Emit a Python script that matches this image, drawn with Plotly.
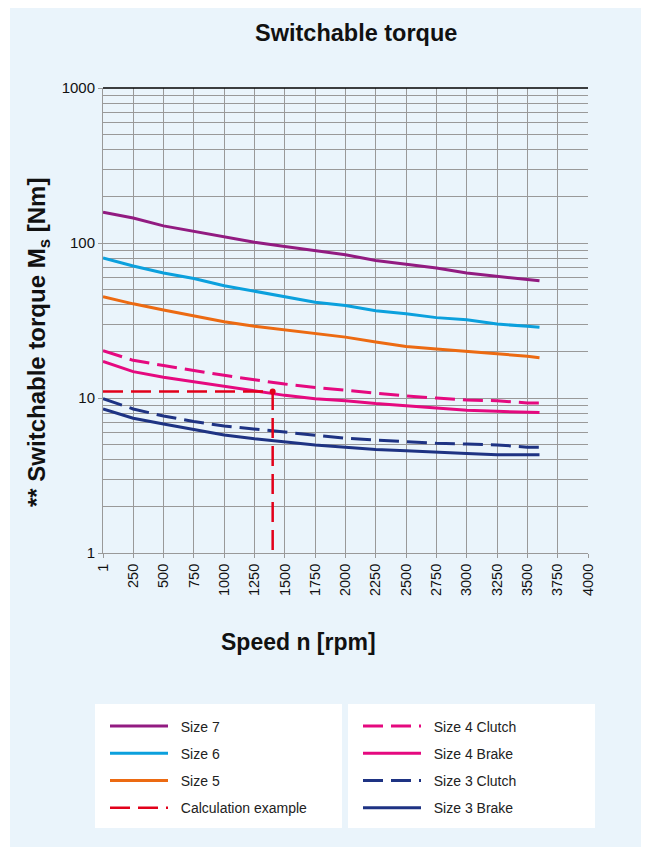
import plotly.graph_objects as go

# speed values (rpm) and switchable torque (Nm)
speed = [1, 250, 500, 750, 1000, 1250, 1500, 1750, 2000, 2250, 2500, 2750, 3000, 3250, 3500, 3600]

size7 = [158, 145, 129, 119, 110, 101, 95, 89, 84, 77, 73, 69, 64, 61, 58, 57]
size6 = [80, 71, 64, 59, 53, 49, 45, 41.5, 39.5, 36.5, 35, 33, 32, 30, 29, 28.6]
size5 = [45, 40.5, 37, 34, 31, 29, 27.5, 26, 24.7, 23, 21.5, 20.7, 19.9, 19.3, 18.6, 18.2]
size4_clutch = [20.2, 17.5, 16.2, 15, 14, 13.1, 12.3, 11.7, 11.2, 10.7, 10.3, 10, 9.7, 9.6, 9.3, 9.3]
size4_brake = [17.2, 14.8, 13.6, 12.7, 11.9, 11.1, 10.4, 9.9, 9.6, 9.2, 8.9, 8.6, 8.35, 8.2, 8.05, 8.05]
size3_clutch = [9.9, 8.5, 7.65, 7.05, 6.6, 6.3, 6.0, 5.7, 5.5, 5.35, 5.2, 5.1, 5.05, 4.98, 4.82, 4.82]
size3_brake = [8.5, 7.4, 6.8, 6.3, 5.78, 5.45, 5.18, 4.97, 4.82, 4.65, 4.57, 4.46, 4.38, 4.3, 4.3, 4.3]

# calculation example: 1400 rpm -> about 11 Nm
calc_x = [1, 1400, 1400]
calc_y = [11, 11, 1]

x_ticks = [1] + list(range(250, 4001, 250))
y_ticks = [1, 10, 100, 1000]
y_minor = [m * d for d in (1, 10, 100) for m in range(2, 10)]

FONT = "Liberation Sans, Arial, Helvetica, sans-serif"
BG = "#EAF4FB"
GRID = "#999999"
PAD = "\u00a0\u00a0"  # small gap between legend line and label
DASH = "20px,8px"

fig = go.Figure()

def add_curve(y, name, color, dash, legend):
    fig.add_trace(go.Scatter(
        x=speed, y=y, name=PAD + name, mode="lines",
        line=dict(color=color, width=3, dash=dash),
        legend=legend, legendgroup=name,
    ))

add_curve(size7, "Size 7", "#921B81", "solid", "legend")
add_curve(size6, "Size 6", "#0BA0DD", "solid", "legend")
add_curve(size5, "Size 5", "#EC6A12", "solid", "legend")
add_curve(size4_clutch, "Size 4 Clutch", "#E5097F", DASH, "legend2")
add_curve(size4_brake, "Size 4 Brake", "#E5097F", "solid", "legend2")
add_curve(size3_clutch, "Size 3 Clutch", "#1E3383", DASH, "legend2")
add_curve(size3_brake, "Size 3 Brake", "#1E3383", "solid", "legend2")

fig.add_trace(go.Scatter(
    x=calc_x, y=calc_y, name=PAD + "Calculation example", mode="lines",
    line=dict(color="#E2001A", width=2.5, dash=DASH),
    legend="legend", legendgroup="calc",
))
fig.add_trace(go.Scatter(
    x=[calc_x[1]], y=[calc_y[1]], mode="markers", showlegend=False,
    marker=dict(color="#E2001A", size=6),
))

# layout geometry, in page pixels; the page body has an 8px margin
OFF = 8
W, H = 649 - 2 * OFF, 855 - 2 * OFF
L, R, T, B = 103, 588, 88, 553
pw, ph = R - L, B - T

def px(x):
    return (x - L) / pw

def py(y):
    return (B - y) / ph

shapes = [
    # light blue panel
    dict(type="rect", xref="paper", yref="paper", x0=px(10), x1=px(660), y0=py(870), y1=py(4),
         fillcolor=BG, line=dict(width=0), layer="below"),
    # legend boxes
    dict(type="rect", xref="paper", yref="paper", x0=px(95), x1=px(342), y0=py(828), y1=py(704),
         fillcolor="white", line=dict(width=0), layer="below"),
    dict(type="rect", xref="paper", yref="paper", x0=px(348), x1=px(595), y0=py(828), y1=py(704),
         fillcolor="white", line=dict(width=0), layer="below"),
    # black top frame line
    dict(type="line", xref="paper", yref="paper", x0=0, x1=1, y0=1, y1=1,
         line=dict(color="black", width=1.5)),
]

annotations = [
    dict(text="<b>Switchable torque</b>", xref="paper", yref="paper", x=px(356), y=py(33),
         xanchor="center", yanchor="middle", showarrow=False,
         font=dict(size=23.5, color="#111111", family=FONT)),
    dict(text="<b>Speed n [rpm]</b>", xref="paper", yref="paper", x=px(298), y=py(642),
         xanchor="center", yanchor="middle", showarrow=False,
         font=dict(size=23, color="#111111", family=FONT)),
    dict(text="<b>** Switchable torque M<sub>s</sub> [Nm]</b>", xref="paper", yref="paper",
         x=px(38), y=py(343), xanchor="center", yanchor="middle", textangle=-90, showarrow=False,
         font=dict(size=24, color="#111111", family=FONT)),
]

legend_style = dict(
    bgcolor="rgba(0,0,0,0)", font=dict(size=14, color="#222222", family=FONT),
    itemwidth=58, tracegroupgap=6, xanchor="left", yanchor="top",
    orientation="v", itemclick=False,
)

fig.update_layout(
    width=W, height=H,
    margin=dict(l=L - OFF, r=W + OFF - R, t=T - OFF, b=H + OFF - B),
    paper_bgcolor="white", plot_bgcolor=BG,
    font=dict(family=FONT, color="#111111"),
    shapes=shapes, annotations=annotations,
    legend=dict(x=px(105), y=py(710.5), **legend_style),
    legend2=dict(x=px(358), y=py(710.5), **legend_style),
    xaxis=dict(
        range=[1, 4000], tickvals=x_ticks, tickangle=-90,
        tickfont=dict(size=14.5, color="#111111"),
        showgrid=True, gridcolor=GRID, gridwidth=1,
        showline=True, linecolor=GRID, linewidth=1,
        ticks="outside", ticklen=4, tickcolor=GRID, zeroline=False,
    ),
    yaxis=dict(
        type="log", range=[0, 3], tickvals=y_ticks,
        tickfont=dict(size=15, color="#111111"),
        showgrid=True, gridcolor=GRID, gridwidth=1,
        showline=True, linecolor=GRID, linewidth=1,
        ticks="outside", ticklen=4, tickcolor=GRID, zeroline=False,
        minor=dict(tickvals=y_minor, showgrid=True, gridcolor=GRID, gridwidth=1, ticks=""),
    ),
)

fig.write_html("out.html")
